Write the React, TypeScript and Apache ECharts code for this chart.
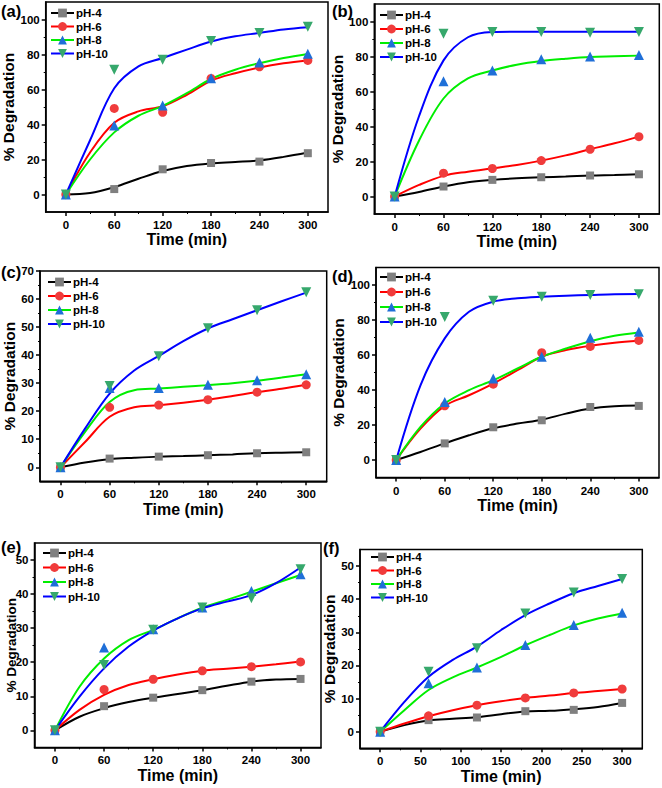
import React, { useEffect, useRef } from 'react';
import * as echarts from 'echarts';

// ---------- data ----------
const PH_NAMES = ['pH-4', 'pH-6', 'pH-8', 'pH-10'];
const SAMPLE_TIMES = [0, 60, 120, 180, 240, 300];
const FIT_TIMES = [0, 30, 60, 90, 120, 150, 180, 210, 240, 270, 300];

// measured points per panel: [pH-4, pH-6, pH-8, pH-10]
const A_POINTS = [
  [0, 3.1, 14.4, 18, 18.8, 23.6],
  [0, 49.2, 47, 66.3, 73, 76.6],
  [0, 39.5, 50.8, 66.5, 75.5, 80.5],
  [0, 71.3, 77, 87.7, 92.3, 95.8],
];
const A_FITS = [
  [0, 0.8, 4.2, 9, 13.4, 16.3, 17.8, 18.6, 19.5, 21.5, 24],
  [0, 24, 41, 47.5, 50.4, 57, 65, 69.3, 72.6, 75, 76.6],
  [0, 20, 35.5, 45, 50.6, 57.9, 66, 71.3, 75, 78, 80.3],
  [0, 31, 60.7, 73.2, 78, 82.8, 87.4, 90.4, 92.3, 94.3, 95.6],
];
const B_POINTS = [
  [0, 5.7, 9.5, 11, 12, 12.7],
  [0, 13.3, 16, 20.5, 27, 34.2],
  [0, 65.8, 72, 78.4, 80, 80.8],
  [0, 93, 94, 94, 93.6, 94],
];
const B_FITS = [
  [0, 2.6, 5.7, 8.2, 9.5, 10.4, 11, 11.4, 12, 12.3, 12.7],
  [0, 6.6, 11.8, 14.2, 16.1, 18, 20.5, 23.5, 27, 30.4, 34.2],
  [0, 32, 56, 67.5, 72, 75.3, 77.4, 78.7, 79.7, 80.1, 80.5],
  [0, 46, 77.8, 91, 94, 94.2, 94.2, 94.2, 94.2, 94.2, 94.2],
];
const C_POINTS = [
  [0, 3.1, 3.8, 4.3, 5, 5.35],
  [0, 21.4, 22.2, 24.1, 26.8, 29.4],
  [0, 28.3, 28.3, 29.4, 31, 33.2],
  [0, 29, 39.6, 49.6, 56, 62.4],
];
const C_FITS = [
  [0, 1.7, 2.9, 3.4, 3.8, 4, 4.3, 4.6, 5, 5.2, 5.35],
  [0, 9, 18, 21.4, 22.1, 23, 24.1, 25.4, 26.8, 28, 29.4],
  [0, 12.6, 23.3, 27.5, 28.1, 28.7, 29.3, 30, 30.9, 32, 33.2],
  [0, 13.8, 26.3, 34.5, 39.7, 45, 49.5, 52.8, 56, 59.2, 62.3],
];
const D_POINTS = [
  [0, 9.5, 18.7, 22.7, 30.3, 30.9],
  [0, 31, 43.3, 61.3, 64.9, 68.3],
  [0, 33.2, 46.6, 59, 69.8, 73.3],
  [0, 81.7, 91, 93.3, 94.3, 94.7],
];
const D_FITS = [
  [0, 4.6, 9.5, 14.1, 18.1, 20.8, 23, 26.5, 29.4, 30.7, 31.1],
  [0, 17.9, 30.9, 37, 43.7, 51.3, 59, 62.8, 65.3, 67, 68.1],
  [0, 18.9, 32.3, 39.9, 45.6, 52.3, 59, 63.7, 67.9, 71, 72.9],
  [0, 42.7, 69.5, 84.7, 90.5, 92.4, 93.3, 93.9, 94.3, 94.7, 94.8],
];
const E_POINTS = [
  [0, 7.1, 9.6, 11.8, 14.3, 15.1],
  [0, 12, 15, 17.5, 18.7, 20.1],
  [0, 24.3, 29.7, 36.1, 40.9, 45.8],
  [0, 19.2, 29.5, 36.1, 38.8, 47.3],
];
const E_FITS = [
  [0, 4, 6.5, 8.3, 9.6, 10.7, 11.8, 13.1, 14.3, 14.9, 15.1],
  [0, 6, 10.4, 13.3, 15, 16.4, 17.5, 18.1, 18.7, 19.4, 20.2],
  [0, 12.8, 21.1, 26.5, 29.5, 32.9, 36, 38.3, 40.7, 43.2, 45.6],
  [0, 9.9, 18.2, 24.6, 29.3, 32.9, 35.8, 37.8, 39.7, 43.2, 47.8],
];
const F_POINTS = [
  [0, 3.5, 4.3, 6.2, 6.6, 8.7],
  [0, 4.8, 8, 10.2, 11.7, 12.9],
  [0, 14.6, 19.4, 26.2, 32.2, 35.9],
  [0, 18.1, 25.2, 35.7, 42, 46.1],
];
const F_FITS = [
  [0, 2, 3.4, 3.9, 4.4, 5.3, 6.1, 6.3, 6.8, 7.5, 8.7],
  [0, 2.5, 4.7, 6.5, 8, 9.2, 10.2, 10.9, 11.7, 12.3, 12.9],
  [0, 6.5, 12.6, 16.4, 19.4, 22.6, 26.1, 29.2, 32.1, 34.2, 35.7],
  [0, 9, 16.6, 21.7, 25.7, 30.7, 35.2, 38.7, 41.8, 44, 46.1],
];

// tick labels
const X_TICKS_60 = [0, 60, 120, 180, 240, 300];
const X_MINOR_60 = [30, 90, 150, 210, 270];
const X_TICKS_50 = [0, 50, 100, 150, 200, 250, 300];
const X_MINOR_50 = [25, 75, 125, 175, 225, 275];
const Y_TICKS_100 = [0, 20, 40, 60, 80, 100];
const Y_MINOR_100 = [10, 30, 50, 70, 90];
const Y_TICKS_70 = [0, 10, 20, 30, 40, 50, 60, 70];
const Y_MINOR_70 = [5, 15, 25, 35, 45, 55, 65];
const Y_TICKS_50 = [0, 10, 20, 30, 40, 50];
const Y_MINOR_50 = [5, 15, 25, 35, 45];

const PANEL_LABELS = ['(a)', '(b)', '(c)', '(d)', '(e)', '(f)'];
const X_TITLE = 'Time (min)';
const Y_TITLE = '% Degradation';

// ---------- styles / layout ----------
const FONT = '"Liberation Sans", Arial, sans-serif';
const LINE_COLORS = ['#000000', '#ff0000', '#00ee00', '#0000ff'];
const MARKER_COLORS = ['#808080', '#f03c3c', '#1f6fd8', '#36a86c'];
const SYMBOLS = ['rect', 'circle', 'triangle', 'path://M0,0L20,0L10,17Z'];
const SYMBOL_SIZES = [8, 9, 10, 10];

const PANELS = [
  { points: A_POINTS, fits: A_FITS, grid: { left: 45.7, top: 2, width: 282.3, height: 210 }, y: [-10, 110], yt: Y_TICKS_100, ym: Y_MINOR_100, xt: X_TICKS_60, xm: X_MINOR_60, yGap: 24, yFont: 15.5, yMove: true, legend: { left: 50, top: 7, gap: 1.5 }, label: [1, 12] },
  { points: B_POINTS, fits: B_FITS, grid: { left: 374.3, top: 4, width: 285, height: 210 }, y: [-10, 110], yt: Y_TICKS_100, ym: Y_MINOR_100, xt: X_TICKS_60, xm: X_MINOR_60, yGap: 23, yFont: 15.5, yMove: true, legend: { left: 379, top: 9, gap: 2 }, label: [332, 12] },
  { points: C_POINTS, fits: C_FITS, grid: { left: 40, top: 271, width: 286.7, height: 210.3 }, y: [-5, 70], yt: Y_TICKS_70, ym: Y_MINOR_70, xt: X_TICKS_60, xm: X_MINOR_60, yGap: 19, yFont: 15.5, yMove: true, legend: { left: 47, top: 276, gap: 2 }, label: [1, 273] },
  { points: D_POINTS, fits: D_FITS, grid: { left: 376, top: 267.5, width: 283, height: 210 }, y: [-10, 110], yt: Y_TICKS_100, ym: Y_MINOR_100, xt: X_TICKS_60, xm: X_MINOR_60, yGap: 30, yFont: 15.5, yMove: true, legend: { left: 379, top: 271, gap: 3 }, label: [332, 277] },
  { points: E_POINTS, fits: E_FITS, grid: { left: 34.5, top: 543, width: 286.5, height: 204.4 }, y: [-5, 55], yt: Y_TICKS_50, ym: Y_MINOR_50, xt: X_TICKS_60, xm: X_MINOR_60, yGap: 16.5, yFont: 13.5, yMove: false, legend: { left: 42, top: 547, gap: 2.5 }, label: [1, 548] },
  { points: F_POINTS, fits: F_FITS, grid: { left: 360, top: 549.5, width: 282.3, height: 198.8 }, y: [-5, 55], yt: Y_TICKS_50, ym: Y_MINOR_50, xt: X_TICKS_50, xm: X_MINOR_50, yGap: 22, yFont: 15.5, yMove: true, legend: { left: 370, top: 551, gap: 1.5 }, label: [323, 549] },
];

function buildOption() {
  const grid: any[] = [];
  const xAxis: any[] = [];
  const yAxis: any[] = [];
  const series: any[] = [];
  const legend: any[] = [];
  const graphic: any[] = [];
  const labelStyle = { color: '#000', fontFamily: FONT, fontWeight: 'bold' as const, fontSize: 11.5 };

  PANELS.forEach((p, i) => {
    grid.push({ ...p.grid, show: true, borderColor: '#000', borderWidth: 1.5, backgroundColor: 'transparent', containLabel: false, outerBoundsMode: 'none' });
    const xMain = {
      type: 'value', gridIndex: i, min: -25, max: 325,
      name: X_TITLE, nameLocation: 'middle', nameGap: 19,
      nameTextStyle: { color: '#000', fontFamily: FONT, fontWeight: 'bold', fontSize: 16 },
      axisLine: { show: true, onZero: false, lineStyle: { color: '#000', width: 1.5 } },
      axisTick: { show: true, customValues: p.xt, length: 4, lineStyle: { color: '#000', width: 1.5 } },
      axisLabel: { show: true, customValues: p.xt, margin: 7, ...labelStyle },
      splitLine: { show: false },
    };
    const xMinor = {
      type: 'value', gridIndex: i, min: -25, max: 325, position: 'bottom',
      axisLine: { show: false, onZero: false },
      axisTick: { show: true, customValues: p.xm, length: 2, lineStyle: { color: '#000', width: 1 } },
      axisLabel: { show: false },
      splitLine: { show: false },
    };
    const yMain = {
      type: 'value', gridIndex: i, min: p.y[0], max: p.y[1],
      name: Y_TITLE, nameLocation: 'middle', nameGap: p.yGap, nameMoveOverlap: p.yMove,
      nameTextStyle: { color: '#000', fontFamily: FONT, fontWeight: 'bold', fontSize: p.yFont },
      axisLine: { show: true, onZero: false, lineStyle: { color: '#000', width: 1.5 } },
      axisTick: { show: true, customValues: p.yt, length: 4, lineStyle: { color: '#000', width: 1.5 } },
      axisLabel: { show: true, customValues: p.yt, margin: 6, ...labelStyle },
      splitLine: { show: false },
    };
    const yMinor = {
      type: 'value', gridIndex: i, min: p.y[0], max: p.y[1], position: 'left',
      axisLine: { show: false, onZero: false },
      axisTick: { show: true, customValues: p.ym, length: 2, lineStyle: { color: '#000', width: 1 } },
      axisLabel: { show: false },
      splitLine: { show: false },
    };
    xAxis.push(xMain, xMinor);
    yAxis.push(yMain, yMinor);

    PH_NAMES.forEach((name, j) => {
      series.push({
        type: 'line', name, xAxisIndex: 2 * i, yAxisIndex: 2 * i,
        data: FIT_TIMES.map((t, k) => [t, p.fits[j][k]]),
        smooth: 0.35, showSymbol: false, symbol: SYMBOLS[j], symbolSize: SYMBOL_SIZES[j],
        lineStyle: { color: LINE_COLORS[j], width: 2 },
        itemStyle: { color: MARKER_COLORS[j] },
        silent: true, z: 2,
      });
    });
    PH_NAMES.forEach((name, j) => {
      series.push({
        type: 'scatter', name: name + ' data', xAxisIndex: 2 * i, yAxisIndex: 2 * i,
        data: SAMPLE_TIMES.map((t, k) => [t, p.points[j][k]]),
        symbol: SYMBOLS[j], symbolSize: SYMBOL_SIZES[j],
        itemStyle: { color: MARKER_COLORS[j], opacity: 1 },
        silent: true, z: 3 + j * 0.01,
      });
    });

    legend.push({
      data: PH_NAMES.map((name, j) => ({
        name,
        itemStyle: { color: MARKER_COLORS[j], borderWidth: 0 },
        lineStyle: { color: LINE_COLORS[j], width: 2 },
      })),
      orient: 'vertical', left: p.legend.left, top: p.legend.top, padding: 0,
      itemWidth: 23, itemHeight: 11, itemGap: p.legend.gap, selectedMode: false,
      textStyle: { color: '#000', fontFamily: FONT, fontWeight: 'bold', fontSize: 11.5, lineHeight: 11, padding: [0, 0, 0, -3] },
    });

    graphic.push({
      type: 'text', left: p.label[0], top: p.label[1] - 10,
      style: { text: PANEL_LABELS[i], fill: '#000', font: `bold 16.5px ${FONT}` },
      z: 10,
    });
  });

  return { animation: false, backgroundColor: '#fff', grid, xAxis, yAxis, series, legend, graphic };
}

export default function App() {
  const ref = useRef<HTMLDivElement>(null);
  useEffect(() => {
    if (!ref.current) return;
    const chart = echarts.init(ref.current, undefined, { renderer: 'svg' });
    chart.setOption(buildOption() as any);
    return () => chart.dispose();
  }, []);
  return <div ref={ref} style={{ position: 'absolute', left: 0, top: 0, width: 662, height: 788, background: '#fff' }} />;
}
